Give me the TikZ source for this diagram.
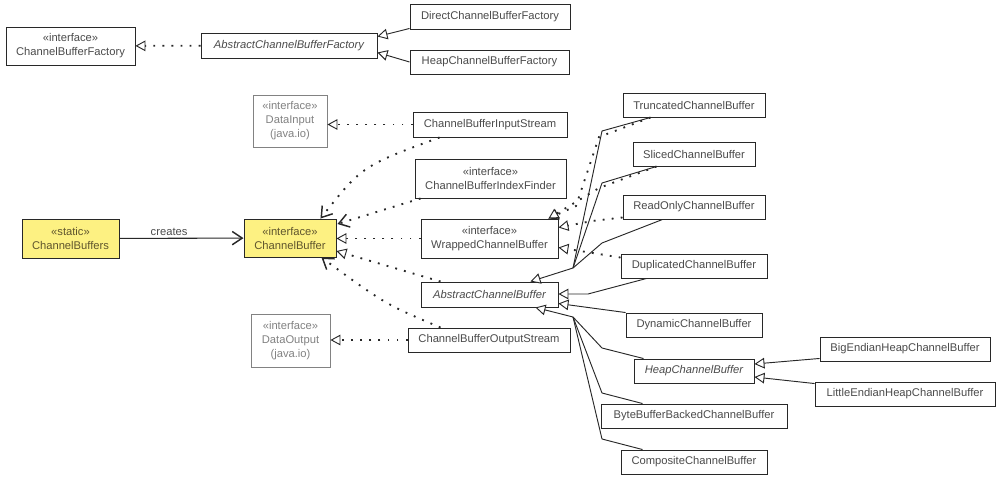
\documentclass[tikz,border=0pt]{standalone}
\usepackage{fontspec}
\setmainfont{Liberation Sans}
\usetikzlibrary{arrows.meta,calc}
\definecolor{txt}{RGB}{75,75,75}
\definecolor{lighttxt}{RGB}{130,130,130}
\definecolor{edge}{RGB}{40,40,40}
\definecolor{yel}{RGB}{253,241,130}
\definecolor{yeltxt}{RGB}{95,85,45}
\newcommand\ubox[7][]{%
  \node[umlbox,#1,minimum width={(#5-#3)*0.75pt},minimum height={(#6-#4)*0.75pt}]
    (#2) at ({(#3+#5)/2},{(#4+#6)/2}) {#7};}
\tikzset{
  umlbox/.style={draw=edge,line width=0.7pt,fill=white,text=txt,inner sep=0pt,
    align=center,font=\fontsize{8.4}{10.5}\selectfont},
  ext/.style={draw=lighttxt,text=lighttxt},
  hot/.style={fill=yel,text=yeltxt},
  gen/.style={draw=edge,line width=0.7pt,
    -{Triangle[length=7.5pt,width=8pt,fill=white,line width=0.7pt]}},
  plain/.style={draw=edge,line width=0.7pt},
  dotline/.style={draw=edge,line width=1.4pt,dash pattern=on 1.4pt off 5.4pt},
  real/.style={dotline,
    -{Triangle[length=7.5pt,width=8pt,fill=white,line width=0.7pt]}},
  dep/.style={dotline,
    -{Straight Barb[length=7.5pt,width=10pt,line width=1.1pt]}},
  assoc/.style={draw=edge,line width=0.8pt,
    -{Straight Barb[length=7.5pt,width=10pt,line width=1.1pt]}},
  lbl/.style={text=txt,font=\fontsize{8.4}{10.5}\selectfont,inner sep=1.5pt}
}
\begin{document}
\begin{tikzpicture}[x=0.75pt,y=-0.75pt]
\useasboundingbox (0,0) rectangle (1000,479);
% top group
\ubox{cbf}{6}{27}{135}{65}{«interface»\\ChannelBufferFactory}
\ubox{acbf}{201}{33}{377}{58}{\itshape AbstractChannelBufferFactory}
\ubox{dcbf}{410}{4}{570}{29}{DirectChannelBufferFactory}
\ubox{hcbf}{410}{50}{569}{74}{HeapChannelBufferFactory}
% middle
\ubox[ext]{datain}{253}{95}{327}{147}{«interface»\\DataInput\\(java.io)}
\ubox{isin}{413}{112}{567}{137}{ChannelBufferInputStream}
\ubox{ifind}{415}{159}{566}{198}{«interface»\\ChannelBufferIndexFinder}
\ubox[hot]{cbs}{22}{219}{119}{258}{«static»\\ChannelBuffers}
\ubox[hot]{cb}{244}{219}{336}{257}{«interface»\\ChannelBuffer}
\ubox{wrap}{421}{219}{558}{258}{«interface»\\WrappedChannelBuffer}
\ubox{acb}{421}{282}{558}{307}{\itshape AbstractChannelBuffer}
\ubox{osout}{408}{328}{570}{352}{ChannelBufferOutputStream}
\ubox[ext]{dataout}{251}{314}{330}{367}{«interface»\\DataOutput\\(java.io)}
% right column
\ubox{trunc}{623}{93}{765}{117}{TruncatedChannelBuffer}
\ubox{sliced}{633}{142}{755}{166}{SlicedChannelBuffer}
\ubox{ronly}{623}{195}{765}{219}{ReadOnlyChannelBuffer}
\ubox{dup}{621}{254}{767}{278}{DuplicatedChannelBuffer}
\ubox{dyn}{626}{313}{762}{337}{DynamicChannelBuffer}
\ubox{heap}{634}{359}{754}{383}{\itshape HeapChannelBuffer}
\ubox{big}{820}{337}{990}{361}{BigEndianHeapChannelBuffer}
\ubox{little}{815}{382}{995}{406}{LittleEndianHeapChannelBuffer}
\ubox{bbb}{601}{404}{787}{428}{ByteBufferBackedChannelBuffer}
\ubox{comp}{621}{450}{767}{474}{CompositeChannelBuffer}
% junctions
\coordinate (jt) at (573,268);
\coordinate (jb) at (573,317);
% top connectors
\draw[real] (acbf) -- (cbf);
\draw[gen] ($(dcbf.south west)+(0,-1)$) -- ($(acbf.east)+(0,-9)$);
\draw[gen] (hcbf.west) -- ($(acbf.east)+(0,7)$);
% ChannelBuffers
\draw[assoc] (cbs) -- node[lbl,above,pos=0.4]{creates} (cb);
% streams
\draw[real] (isin.west) -- (datain.east |- isin.west);
\draw[real] (osout.west) -- (dataout.east |- osout.west);
\draw[dep] ($(isin.south west)+(27,0)$) .. controls (362,166) .. ($(cb.north east)+(-16,0)$);
\draw[dep] ($(ifind.south west)+(6,0)$) -- ($(cb.east)+(1,-14)$);
\draw[real] (wrap.west) -- (cb.east |- wrap.west);
\draw[real] ($(acb.north west)+(20,0)$) -- ($(cb.east)+(0,13)$);
\draw[dep] ($(osout.north west)+(33,0)$) .. controls (385,304) .. ($(cb.south east)+(-15,0)$);
% generalisations to AbstractChannelBuffer (top)
\draw[plain] ($(trunc.south west)+(28,0)$) -- (602,131) -- (jt);
\draw[plain] ($(sliced.south west)+(24,0)$) -- (602,183) -- (jt);
\draw[plain] ($(ronly.south west)+(40,0)$) -- (602,243) -- (jt);
\draw[gen] (jt) -- ($(acb.north east)+(-28,0)$);
% realisations of WrappedChannelBuffer
\draw[real] ($(trunc.south west)+(28,0)$) -- (599,137) -- (576,206) -- ($(wrap.north east)+(-10,0)$);
\draw[real] ($(sliced.south west)+(24,0)$) -- (599,188) -- ($(wrap.north east)+(-10,0)$);
\draw[real] ($(ronly.south west)+(0,-2)$) -- (592,221) -- ($(wrap.east)+(0,-11)$);
\draw[real] ($(dup.north west)+(0,4)$) -- ($(wrap.east)+(0,9)$);
% right side generalisations
\draw[gen] ($(dup.south west)+(26,0)$) -- (588,294) -- ($(acb.east)+(0,-0.5)$);
\draw[gen] (dyn.north west) -- ($(acb.east)+(0,9)$);
\draw[plain] ($(heap.north west)+(10,0)$) -- (602,348) -- (jb);
\draw[plain] ($(bbb.north west)+(42,0)$) -- (602,393) -- (jb);
\draw[plain] ($(comp.north west)+(22,0)$) -- (602,439) -- (jb);
\draw[gen] (jb) -- ($(acb.south east)+(-23,0)$);
\draw[gen] ($(big.south west)+(0,-3)$) -- ($(heap.east)+(0,-7)$);
\draw[gen] ($(little.north west)+(0,2)$) -- ($(heap.east)+(0,6)$);
\end{tikzpicture}
\end{document}
